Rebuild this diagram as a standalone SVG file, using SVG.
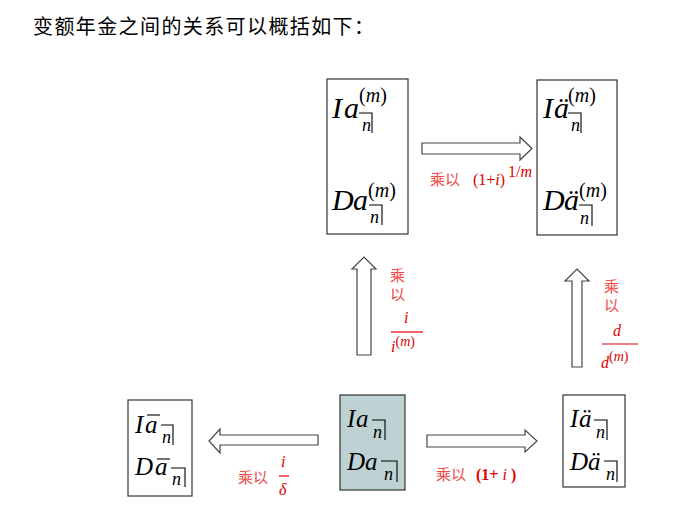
<svg xmlns="http://www.w3.org/2000/svg" width="683" height="527" viewBox="0 0 683 527">
<style>
.box{fill:#fff;stroke:#333;stroke-width:1.2}
.arr{fill:#fff;stroke:#444;stroke-width:1.2}
.m{font-family:"Liberation Serif","DejaVu Serif",serif;font-style:italic;fill:#000}
.u{font-style:normal}
.big{font-size:30px}
.mid{font-size:25px}
.sup{font-size:20px}
.sub{font-size:18px}
.ang{fill:none;stroke:#000;stroke-width:1.1}
.zh{font-family:"Noto Sans CJK SC","Noto Sans",sans-serif;fill:#f04848;font-size:15px}
.rm{font-family:"Liberation Serif","DejaVu Serif",serif;fill:#e00000;font-size:16px}
.fl{stroke:#e00000;stroke-width:1.2}
</style>
<text x="33" y="34" font-family="Noto Sans CJK SC,sans-serif" font-size="20" letter-spacing="1.4" fill="#000">变额年金之间的关系可以概括如下：</text>

<g id="connectors">
<polygon class="arr" points="422,143 520,143 520,137 532,148.5 520,160 520,154 422,154"/>
<polygon class="arr" points="357,355 357,269 352,269 364,257 376,269 371,269 371,355"/>
<polygon class="arr" points="572,367 572,281 565,281 577,269 589,281 582,281 582,367"/>
<polygon class="arr" points="318,435 220,435 220,429 209,441 220,453 220,445 318,445"/>
<polygon class="arr" points="427,435 525,435 525,430 537,441 525,452 525,447 427,447"/>

<g id="label-top">
<text class="zh" x="430" y="185">乘以</text>
<text class="rm" x="473" y="185">(1+<tspan font-style="italic">i</tspan>)</text>
<text class="rm" x="508" y="177" font-size="12">1/<tspan font-style="italic">m</tspan></text>
</g>
<g id="label-upleft">
<text class="zh" x="390" y="281">乘</text>
<text class="zh" x="390" y="300">以</text>
<text class="rm" x="404" y="323" font-style="italic">i</text>
<line class="fl" x1="391" y1="332" x2="423" y2="332"/>
<text class="rm" x="391" y="352" font-style="italic">i<tspan font-size="14" dy="-6" font-style="normal">(</tspan><tspan font-size="14" font-style="italic">m</tspan><tspan font-size="14" font-style="normal">)</tspan></text>
</g>
<g id="label-upright">
<text class="zh" x="604" y="292">乘</text>
<text class="zh" x="604" y="311">以</text>
<text class="rm" x="613" y="336" font-size="20" font-style="italic">d</text>
<line class="fl" x1="602" y1="344" x2="638" y2="344"/>
<text class="rm" x="601" y="368" font-size="20" font-style="italic">d<tspan font-size="14" dy="-7" font-style="normal">(</tspan><tspan font-size="14" font-style="italic">m</tspan><tspan font-size="14" font-style="normal">)</tspan></text>
</g>
<g id="label-left">
<text class="zh" x="238" y="483">乘以</text>
<text class="rm" x="281" y="467" font-style="italic">i</text>
<line class="fl" x1="279" y1="476" x2="289" y2="476"/>
<text class="rm" x="279" y="495" font-style="italic">δ</text>
</g>
<g id="label-right">
<text class="zh" x="436" y="480">乘以</text>
<text class="rm" x="476" y="480" font-weight="bold">(1+ <tspan font-style="italic" font-weight="normal">i</tspan> )</text>
</g>
</g>

<g id="node-top-mid">
<rect class="box" x="327" y="79" width="81" height="155"/>
<text class="m big" x="332" y="118">I</text>
<text class="m big" x="344" y="118">a</text>
<text class="m sup" x="359" y="102"><tspan class="u">(</tspan>m<tspan class="u">)</tspan></text>
<path class="ang" d="M359 113H372V133"/>
<text class="m sub" x="362" y="131">n</text>
<text class="m big" x="332" y="210">D</text>
<text class="m big" x="353" y="210">a</text>
<text class="m sup" x="368" y="197"><tspan class="u">(</tspan>m<tspan class="u">)</tspan></text>
<path class="ang" d="M369 205H382V225"/>
<text class="m sub" x="370" y="223">n</text>
</g>

<g id="node-top-right">
<rect class="box" x="537" y="80" width="80" height="155"/>
<text class="m big" x="543" y="118">I</text>
<text class="m big" x="554" y="118">ä</text>
<text class="m sup" x="568" y="102"><tspan class="u">(</tspan>m<tspan class="u">)</tspan></text>
<path class="ang" d="M568 113H581V133"/>
<text class="m sub" x="571" y="131">n</text>
<text class="m big" x="543" y="210">D</text>
<text class="m big" x="564" y="210">ä</text>
<text class="m sup" x="579" y="197"><tspan class="u">(</tspan>m<tspan class="u">)</tspan></text>
<path class="ang" d="M579 205H592V226"/>
<text class="m sub" x="580" y="224">n</text>
</g>

<g id="node-bottom-left">
<rect class="box" x="128" y="400" width="64" height="96"/>
<text class="m mid" x="135" y="433">I</text>
<text class="m mid" x="145" y="433">a</text>
<path class="ang" d="M147 415H160"/>
<path class="ang" d="M161 425H173V445"/>
<text class="m sub" x="162" y="443">n</text>
<text class="m mid" x="135" y="475">D</text>
<text class="m mid" x="155" y="475">a</text>
<path class="ang" d="M157 459H170"/>
<path class="ang" d="M171 468H185V487"/>
<text class="m sub" x="172" y="485">n</text>
</g>

<g id="node-bottom-mid">
<rect x="340" y="395" width="65" height="95" fill="#bfd2d3" stroke="#333" stroke-width="1.2"/>
<text class="m mid" x="347" y="427">I</text>
<text class="m mid" x="356" y="427">a</text>
<path class="ang" d="M372 420H385V440"/>
<text class="m sub" x="373" y="438">n</text>
<text class="m mid" x="347" y="470">D</text>
<text class="m mid" x="365" y="470">a</text>
<path class="ang" d="M381 461H397V482"/>
<text class="m sub" x="384" y="480">n</text>
</g>

<g id="node-bottom-right">
<rect class="box" x="563" y="395" width="62" height="92"/>
<text class="m mid" x="570" y="427">I</text>
<text class="m mid" x="579" y="427">ä</text>
<path class="ang" d="M594 420H607V440"/>
<text class="m sub" x="596" y="438">n</text>
<text class="m mid" x="570" y="470">D</text>
<text class="m mid" x="588" y="470">ä</text>
<path class="ang" d="M604 461H617V482"/>
<text class="m sub" x="606" y="480">n</text>
</g>
</svg>
